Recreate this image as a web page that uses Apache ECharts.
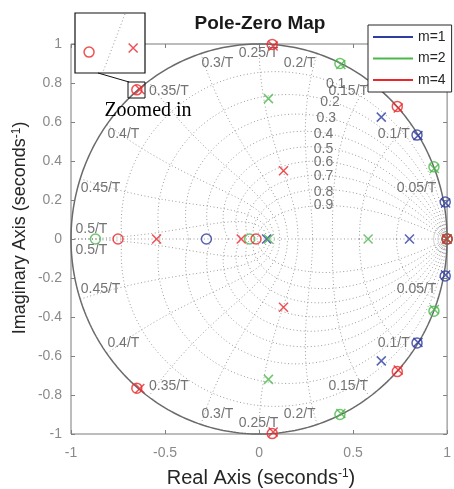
<!DOCTYPE html>
<html><head><meta charset="utf-8">
<script src="https://cdn.jsdelivr.net/npm/echarts@6/dist/echarts.min.js"></script>
<style>html,body{margin:0;padding:0;background:#fff}#c{width:454px;height:489px}</style>
</head><body><div id="c"></div>
<script>
// ---- data ----
const groupNames = ['m=1', 'm=2', 'm=4'];
const groupColors = ['#2f3ca0', '#4cb84c', '#e8282c'];

const zeros_m1 = [[1,0],[-0.28,0],[0.84,0.533],[0.84,-0.533],[0.99,0.19],[0.99,-0.19]];
const poles_m1 = [[1,0],[0.04,0],[0.80,0],[0.65,0.625],[0.65,-0.625],[0.845,0.53],[0.845,-0.53],[0.992,0.185],[0.992,-0.185]];

const zeros_m2 = [[1,0],[-0.87,0],[-0.05,0],[0.43,0.90],[0.43,-0.90],[0.93,0.37],[0.93,-0.37]];
const poles_m2 = [[1,0],[0.05,0],[0.58,0],[0.05,0.72],[0.05,-0.72],[0.435,0.895],[0.435,-0.895],[0.932,0.362],[0.932,-0.362]];

const zeros_m4 = [[1,0],[-0.75,0],[-0.016,0],[0.07,0.998],[0.07,-0.998],[0.735,0.68],[0.735,-0.68],[-0.65,0.765],[-0.65,-0.765]];
const poles_m4 = [[0.998,0],[-0.545,0],[-0.095,0],[0.13,0.35],[0.13,-0.35],[0.075,0.99],[0.075,-0.99],[0.74,0.672],[0.74,-0.672],[-0.634,0.7665],[-0.634,-0.7665]];

const zetaValues = [0.1,0.2,0.3,0.4,0.5,0.6,0.7,0.8,0.9];
const zetaLabels = ['0.1','0.2','0.3','0.4','0.5','0.6','0.7','0.8','0.9'];
const zetaLabelPos = [[0.41,0.79],[0.38,0.70],[0.36,0.615],[0.345,0.535],[0.345,0.46],[0.345,0.39],[0.345,0.32],[0.345,0.24],[0.345,0.17]];
const wnSteps = [1,2,3,4,5,6,7,8,9,10];
const wnLabels = ['0.05/T','0.1/T','0.15/T','0.2/T','0.25/T','0.3/T','0.35/T','0.4/T','0.45/T','0.5/T'];
const smallWn = [0.025, 0.05, 0.075];

// ---- grid geometry (zgrid) ----
function zetaCurve(z, s) {
  const m = z / Math.sqrt(1 - z * z), p = [];
  for (let i = 0; i <= 120; i++) { const th = Math.PI * i / 120, r = Math.exp(-m * th); p.push([r * Math.cos(th), s * r * Math.sin(th)]); }
  return p;
}
function wnCurve(w, s) {
  const p = [];
  for (let i = 0; i <= 60; i++) { const z = i / 60, r = Math.exp(-z * w), a = w * Math.sqrt(1 - z * z); p.push([r * Math.cos(a), s * r * Math.sin(a)]); }
  return p;
}
function unitCircle() { const p = []; for (let i = 0; i <= 360; i++) { const a = i * Math.PI / 180; p.push([Math.cos(a), Math.sin(a)]); } return p; }

const dotted = { color: '#9a9a9a', width: 1, type: [1, 2.5] };
const series = [];
function gridLine(data, style) {
  series.push({ type: 'line', data, symbol: 'none', silent: true, animation: false, lineStyle: style || dotted, z: 1, clip: false });
}
gridLine([[-1, 0], [1, 0]]);
zetaValues.forEach(z => { gridLine(zetaCurve(z, 1)); gridLine(zetaCurve(z, -1)); });
wnSteps.forEach(k => { gridLine(wnCurve(k * Math.PI / 10, 1)); gridLine(wnCurve(k * Math.PI / 10, -1)); });
smallWn.forEach(w => { gridLine(wnCurve(w, 1), { color: '#a0a0a0', width: 1, type: [1, 1] }); gridLine(wnCurve(w, -1), { color: '#a0a0a0', width: 1, type: [1, 1] }); });
gridLine(unitCircle(), { color: '#6a6a6a', width: 1.5, type: 'solid' });

// labels
const labelFont = { fontSize: 14, color: '#505050', fontFamily: 'Liberation Sans, Arial, sans-serif' };
const wnLabelData = [];
wnSteps.forEach((k, i) => {
  const a = k * Math.PI / 10;
  [1, -1].forEach(s => {
    let align = k < 5 ? 'right' : (k === 5 ? 'center' : 'left');
    let va = s > 0 ? 'top' : 'bottom';
    let off = [k < 5 ? -1 : (k === 5 ? 0 : 1), s > 0 ? 3 : -3];
    if (k === 10) { va = s > 0 ? 'bottom' : 'top'; off = [5, s > 0 ? -2 : 5]; }
    wnLabelData.push({ value: [Math.cos(a), s * Math.sin(a)], label: Object.assign({ show: true, formatter: wnLabels[i], position: [0, 0], align, verticalAlign: va, offset: off }, labelFont) });
  });
});
series.push({ type: 'scatter', data: wnLabelData, symbolSize: 1, itemStyle: { color: 'transparent' }, silent: true, animation: false, z: 2, clip: false });
series.push({ type: 'scatter', data: zetaLabelPos.map((p, i) => ({ value: p, label: Object.assign({ show: true, formatter: zetaLabels[i], position: [0, 0], align: 'center', verticalAlign: 'middle' }, labelFont) })), symbolSize: 1, itemStyle: { color: 'transparent' }, silent: true, animation: false, z: 2, clip: false });

// markers
const xPath = 'path://M0,0L10,10M10,0L0,10';
const allZeros = [zeros_m1, zeros_m2, zeros_m4];
const allPoles = [poles_m1, poles_m2, poles_m4];
function markers(gi, xi, yi, z) {
  groupNames.forEach((n, i) => {
    series.push({ name: n + ' zeros', type: 'scatter', xAxisIndex: xi, yAxisIndex: yi, data: allZeros[i], symbol: 'circle', symbolSize: 10, itemStyle: { color: 'transparent', borderColor: groupColors[i], borderWidth: 1.5 }, animation: false, silent: true, z, clip: gi === 1 });
    series.push({ name: n + ' poles', type: 'scatter', xAxisIndex: xi, yAxisIndex: yi, data: allPoles[i], symbol: xPath, symbolSize: 9, itemStyle: { color: 'transparent', borderColor: groupColors[i], borderWidth: 1.5 }, animation: false, silent: true, z, clip: gi === 1 });
  });
}
markers(0, 0, 0, 3);
markers(1, 2, 2, 12);
// legend entries
groupNames.forEach((n, i) => series.push({ name: n, type: 'line', data: [], symbol: 'none', lineStyle: { color: groupColors[i], width: 1.6 }, itemStyle: { color: groupColors[i] } }));

const tickLbl = { color: '#8a8a8a', fontSize: 14, fontFamily: 'Liberation Sans, Arial, sans-serif' };
const tickStyle = { inside: true, length: 4, lineStyle: { color: '#808080' } };
const noLine = { show: false, onZero: false };
const option = {
  animation: false,
  grid: [
    { left: 71, top: 44, width: 378, height: 390, show: true, borderColor: '#7a7a7a', borderWidth: 1, backgroundColor: 'transparent', z: 0 },
    { left: 75, top: 13, width: 70, height: 60, show: true, borderColor: '#111', borderWidth: 1.2, backgroundColor: '#fff', z: 10 }
  ],
  xAxis: [
    { gridIndex: 0, type: 'value', min: -1, max: 1, interval: 0.5, axisLine: noLine, axisTick: tickStyle, axisLabel: Object.assign({ margin: 12 }, tickLbl), splitLine: { show: false } },
    { gridIndex: 0, type: 'value', position: 'top', min: -1, max: 1, interval: 0.5, axisLine: noLine, axisTick: tickStyle, axisLabel: { show: false }, splitLine: { show: false } },
    { gridIndex: 1, type: 'value', min: -0.6551, max: -0.6297, show: false, axisLine: noLine }
  ],
  yAxis: [
    { gridIndex: 0, type: 'value', min: -1, max: 1, interval: 0.2, axisLine: noLine, axisTick: tickStyle, axisLabel: Object.assign({ margin: 9 }, tickLbl), splitLine: { show: false } },
    { gridIndex: 0, type: 'value', position: 'right', min: -1, max: 1, interval: 0.2, axisLine: noLine, axisTick: tickStyle, axisLabel: { show: false }, splitLine: { show: false } },
    { gridIndex: 1, type: 'value', min: 0.7574, max: 0.7792, show: false, axisLine: noLine }
  ],
  legend: {
    orient: 'vertical', left: 368, top: 25, padding: [5, 6, 5, 4], itemWidth: 40, itemHeight: 14, itemGap: 7.5,
    backgroundColor: '#fff', borderColor: '#262626', borderWidth: 1, selectedMode: false,
    itemStyle: { opacity: 0 },
    textStyle: { fontSize: 14, color: '#262626', fontFamily: 'Liberation Sans, Arial, sans-serif' },
    data: groupNames, z: 8
  },
  series,
  graphic: [
    { type: 'text', x: 260, y: 24, z: 20, style: { text: 'Pole-Zero Map', fontSize: 19, fontWeight: 'bold', fill: '#1a1a1a', fontFamily: 'Liberation Sans, Arial, sans-serif', align: 'center', verticalAlign: 'middle' } },
    { type: 'text', x: 261, y: 478, z: 20, style: { text: '{a|Real Axis (seconds}{b|-1}{a|)}', align: 'center', verticalAlign: 'middle', rich: { a: { fontSize: 20, fill: '#262626', fontFamily: 'Liberation Sans, Arial, sans-serif' }, b: { fontSize: 12, fill: '#262626', verticalAlign: 'top', fontFamily: 'Liberation Sans, Arial, sans-serif' } } } },
    { type: 'text', x: 20, y: 228, z: 20, rotation: Math.PI / 2, style: { text: '{a|Imaginary Axis (seconds}{b|-1}{a|)}', align: 'center', verticalAlign: 'middle', rich: { a: { fontSize: 18, fill: '#262626', fontFamily: 'Liberation Sans, Arial, sans-serif' }, b: { fontSize: 12, fill: '#262626', verticalAlign: 'top', fontFamily: 'Liberation Sans, Arial, sans-serif' } } } },
    { type: 'rect', z: 20, shape: { x: 128, y: 82, width: 17, height: 16 }, style: { fill: 'none', stroke: '#111', lineWidth: 1 } },
    { type: 'line', z: 20, shape: { x1: 98, y1: 73, x2: 129, y2: 82 }, style: { stroke: '#111', lineWidth: 1 } },
    { type: 'line', z: 20, shape: { x1: 125, y1: 14, x2: 103, y2: 72 }, style: { stroke: '#9a9a9a', lineWidth: 1, lineDash: [1, 2.5] } },
    { type: 'text', x: 148, y: 111, z: 20, style: { text: 'Zoomed in', fontSize: 20, fill: '#000', fontFamily: 'Liberation Serif, Times New Roman, serif', align: 'center', verticalAlign: 'middle' } }
  ]
};
const chart = echarts.init(document.getElementById('c'), null, { renderer: 'canvas' });
chart.setOption(option);
</script></body></html>
